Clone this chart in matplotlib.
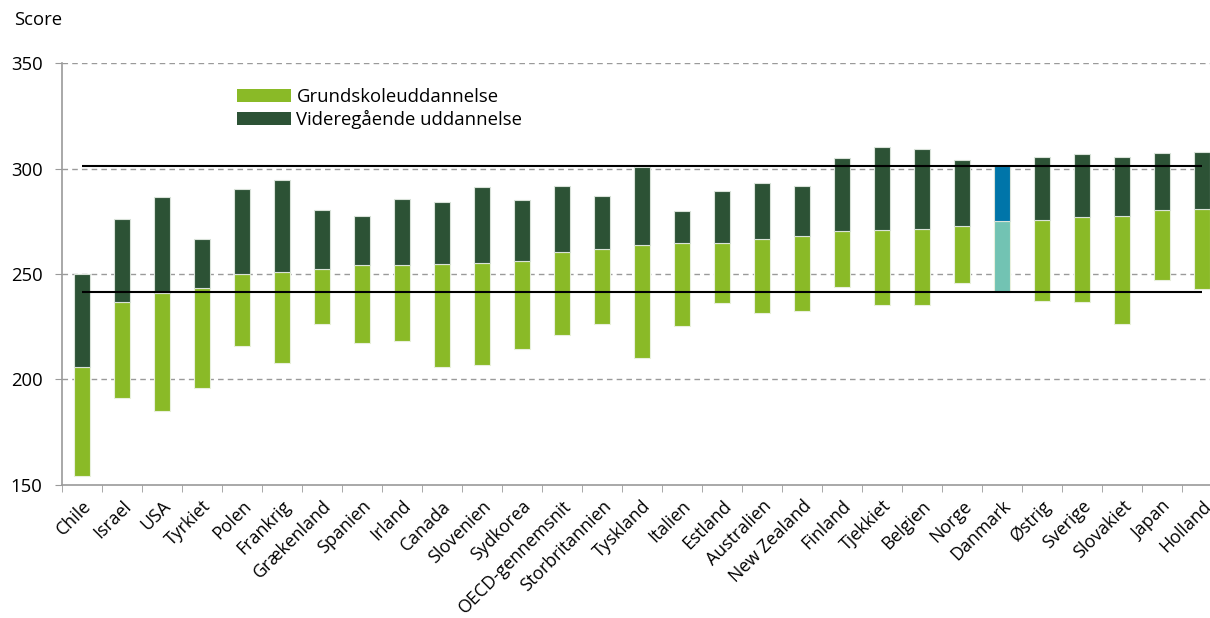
import matplotlib.pyplot as plt
import matplotlib.transforms as mtrans
import numpy as np

plt.rcParams['font.family'] = ['Open Sans', 'DejaVu Sans']

lande = ['Chile', 'Israel', 'USA', 'Tyrkiet', 'Polen', 'Frankrig', 'Grækenland',
         'Spanien', 'Irland', 'Canada', 'Slovenien', 'Sydkorea', 'OECD-gennemsnit',
         'Storbritannien', 'Tyskland', 'Italien', 'Estland', 'Australien',
         'New Zealand', 'Finland', 'Tjekkiet', 'Belgien', 'Norge', 'Danmark',
         'Østrig', 'Sverige', 'Slovakiet', 'Japan', 'Holland']

# score med grundskole som højeste uddannelse (nederste kant af søjlen)
grundskole = [154.0, 191.1, 184.7, 196.0, 215.8, 207.6, 226.2, 217.4, 218.3,
              205.8, 206.8, 214.5, 221.2, 226.1, 210.1, 225.3, 236.1, 231.5,
              232.3, 243.8, 235.1, 235.0, 245.6, 241.2, 237.0, 236.7, 226.2,
              247.0, 242.7]
# overgang mellem de to farver
midt = [205.8, 236.7, 240.8, 243.5, 249.9, 250.8, 252.4, 254.1, 254.1,
        254.5, 255.2, 256.0, 260.6, 261.7, 263.8, 264.9, 264.9, 266.6,
        268.1, 270.6, 270.9, 271.4, 272.7, 275.0, 275.7, 277.1, 277.6,
        280.4, 280.6]
# score med videregående uddannelse (øverste kant)
videregaaende = [250.0, 276.3, 286.6, 266.5, 290.1, 294.4, 280.4, 277.7, 285.5,
                 284.2, 291.1, 285.3, 291.7, 286.8, 300.6, 280.1, 289.6, 293.0,
                 291.8, 304.8, 310.2, 309.1, 304.2, 301.4, 305.6, 306.8, 305.5,
                 307.4, 307.7]

lys_groen = '#8aba27'
moerk_groen = '#2c5235'
dk_lys = '#72c3b3'
dk_moerk = '#0075a9'
fs = 13.3

x = np.arange(len(lande))
g = np.array(grundskole)
m = np.array(midt)
v = np.array(videregaaende)
dk = lande.index('Danmark')

farve1 = [dk_lys if i == dk else lys_groen for i in x]
farve2 = [dk_moerk if i == dk else moerk_groen for i in x]

fig = plt.figure(figsize=(12.1, 6.18), dpi=100)
ax = fig.add_axes([62 / 1210, 1 - 484.5 / 618, 1160 / 1210, (484.5 - 63.3) / 618])

ax.bar(x, m - g, bottom=g, width=0.4, color=farve1, edgecolor='#e8f0dc',
       linewidth=0.8, label='Grundskoleuddannelse', zorder=3)
ax.bar(x, v - m, bottom=m, width=0.4, color=farve2, edgecolor='#d9e2d9',
       linewidth=0.8, label='Videregående uddannelse', zorder=3)

# Danmarks niveau som vandrette referencelinjer
ax.hlines([g[dk], v[dk]], x[0], x[-1], colors='black', linewidth=1.5, zorder=4)

ax.set_xlim(-0.5, len(lande) - 0.5)
ax.set_ylim(150, 350)
ax.set_yticks([150, 200, 250, 300, 350])
for yy in [200, 250, 300, 350]:
    ax.axhline(yy, color='#9a9a9a', linestyle=(0, (4, 3)), linewidth=1, zorder=1)

ax.set_xticks(x)
ax.set_xticklabels(lande, rotation=45, ha='right', rotation_mode='anchor',
                   fontsize=12.8)
skub = mtrans.ScaledTranslation(-4 / 100, 0, fig.dpi_scale_trans)
for lbl in ax.get_xticklabels():
    lbl.set_transform(lbl.get_transform() + skub)
ax.set_xticks(np.arange(len(lande) + 1) - 0.5, minor=True)
ax.tick_params(axis='x', which='major', length=0, pad=9)
ax.tick_params(axis='x', which='minor', length=5, color='#9a9a9a', direction='out')
ax.tick_params(axis='y', length=5, color='#9a9a9a', labelsize=fs, pad=9)

for s in ['top', 'right']:
    ax.spines[s].set_visible(False)
for s in ['left', 'bottom']:
    ax.spines[s].set_color('#9a9a9a')
    ax.spines[s].set_linewidth(1.2)

fig.text(14 / 1210, 1 - 20 / 618, 'Score', fontsize=fs, va='center', ha='left')

leg = ax.legend(loc='upper left', bbox_to_anchor=(230 / 1210, 1 - 80.5 / 618),
                bbox_transform=fig.transFigure, frameon=False, fontsize=fs,
                handlelength=2.9, handleheight=0.75, handletextpad=0.3,
                labelspacing=0.22, borderaxespad=0)
for h in leg.legend_handles:
    h.set_edgecolor('none')
leg.legend_handles[0].set_facecolor(lys_groen)
leg.legend_handles[1].set_facecolor(moerk_groen)

fig.savefig('out.png', dpi=100)
